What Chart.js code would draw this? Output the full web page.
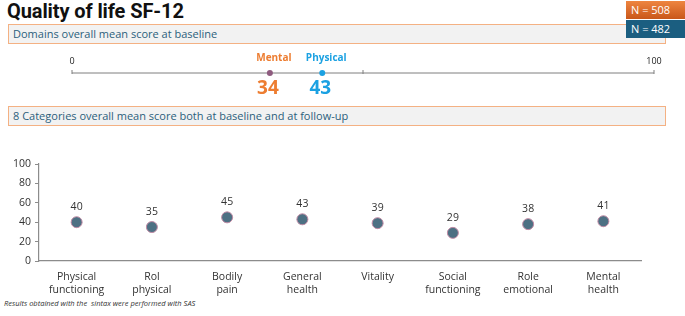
<!DOCTYPE html>
<html>
<head>
<meta charset="utf-8">
<script src="https://cdn.jsdelivr.net/npm/chart.js@4.4.1/dist/chart.umd.min.js"></script>
<style>
  body { margin: 0; width: 685px; height: 316px; background: #fff; position: relative; overflow: hidden; font-family: "Open Sans", Roboto, sans-serif; }
  .title { position: absolute; left: 7px; top: -1px; font-family: Roboto, sans-serif; font-weight: bold; font-size: 20px; color: #111; letter-spacing: -0.1px; }
  .box { position: absolute; left: 8px; width: 658px; background: #f2f2f2; border: 1.5px solid #f4b183; box-sizing: border-box; color: #2c5f7c; font-size: 11px; padding-left: 4px; }
  .nbox { position: absolute; left: 626px; width: 59px; height: 18px; color: #fff; font-size: 11px; line-height: 18px; padding-left: 5px; box-sizing: border-box; }
  .foot { position: absolute; left: 4px; top: 298px; font-size: 7.5px; font-style: italic; color: #333; }
  canvas { position: absolute; left: 0; }
</style>
</head>
<body>
<div class="title">Quality of life SF-12</div>
<div class="box" style="top:24px;height:20px;line-height:18px;">Domains overall mean score at baseline</div>
<div class="nbox" style="top:1px;background:linear-gradient(#ee8540,#c9571a);">N = 508</div>
<div class="nbox" style="top:20px;background:#1b5e80;">N = 482</div>
<div class="box" style="top:106px;height:20px;line-height:18px;">8 Categories overall mean score both at baseline and at follow-up</div>
<div class="foot">Results obtained with the&nbsp; sintax were performed with SAS</div>

<div style="position:absolute;left:0;top:46px;width:685px;height:54px;"><canvas id="domainChart"></canvas></div>
<div style="position:absolute;left:0;top:150px;width:685px;height:150px;"><canvas id="categoryChart"></canvas></div>

<script>
// Domains (baseline)
const domainNames = ['Mental', 'Physical'];
const domainScores = [34, 43];
const domainColors = ['#ed7d31', '#1ba1e2'];
const domainDotColors = ['#8e5b7f', '#1ba1e2'];
const scaleTicks = [0, 50, 100];

// 8 categories
const categories = [
    ['Physical', 'functioning'], ['Rol', 'physical'], ['Bodily', 'pain'], ['General', 'health'],
    'Vitality', ['Social', 'functioning'], ['Role', 'emotional'], ['Mental', 'health']
];
const categoryScores = [40, 35, 45, 43, 39, 29, 38, 41];
const yTicks = [0, 20, 40, 60, 80, 100];

// draws the 0-100 line, tick marks and the labels for the domain chart
const domainScalePlugin = {
    id: 'domainScale',
    beforeDatasetsDraw(chart) {
        const ctx = chart.ctx;
        const x = chart.scales.x;
        const y0 = chart.scales.y.getPixelForValue(0);
        ctx.save();
        ctx.strokeStyle = '#7f7f7f';
        ctx.lineWidth = 1;
        ctx.beginPath();
        ctx.moveTo(x.getPixelForValue(0), y0);
        ctx.lineTo(x.getPixelForValue(100), y0);
        scaleTicks.forEach(t => {
            const px = x.getPixelForValue(t);
            ctx.moveTo(px, y0 - 3);
            ctx.lineTo(px, y0 + 1);
        });
        ctx.stroke();
        ctx.fillStyle = '#222';
        ctx.font = '9px "Open Sans", sans-serif';
        ctx.textAlign = 'center';
        ctx.textBaseline = 'middle';
        ctx.fillText('0', x.getPixelForValue(0), y0 - 12);
        ctx.fillText('100', x.getPixelForValue(100), y0 - 12);
        ctx.restore();
    },
    afterDatasetsDraw(chart) {
        const ctx = chart.ctx;
        const x = chart.scales.x;
        const y0 = chart.scales.y.getPixelForValue(0);
        ctx.save();
        ctx.textAlign = 'center';
        ctx.textBaseline = 'middle';
        domainScores.forEach((v, i) => {
            const px = x.getPixelForValue(v);
            ctx.fillStyle = domainColors[i];
            ctx.font = 'bold 10px "Open Sans", sans-serif';
            ctx.fillText(domainNames[i], px + 4, y0 - 15);
            ctx.font = 'bold 19px "Open Sans", sans-serif';
            ctx.fillText(String(v), px - 2, y0 + 16);
        });
        ctx.restore();
    }
};

new Chart(document.getElementById('domainChart'), {
    type: 'scatter',
    data: {
        datasets: [{
            data: domainScores.map(v => ({ x: v, y: 0 })),
            backgroundColor: domainDotColors,
            borderWidth: 0,
            pointRadius: 3,
            clip: false
        }]
    },
    options: {
        responsive: true,
        maintainAspectRatio: false,
        animation: false,
        layout: { padding: { left: 72, right: 31, top: 0, bottom: 2 } },
        plugins: { legend: { display: false }, tooltip: { enabled: false } },
        scales: {
            x: { type: 'linear', min: 0, max: 100, display: false },
            y: { min: -1, max: 1, display: false }
        }
    },
    plugins: [domainScalePlugin]
});

// value labels above each point
const pointLabelPlugin = {
    id: 'pointLabels',
    afterDatasetsDraw(chart) {
        const ctx = chart.ctx;
        const meta = chart.getDatasetMeta(0);
        ctx.save();
        ctx.fillStyle = '#333';
        ctx.font = '10.5px "Open Sans", sans-serif';
        ctx.textAlign = 'center';
        ctx.textBaseline = 'middle';
        meta.data.forEach((pt, i) => {
            ctx.fillText(String(categoryScores[i]), pt.x, pt.y - 15);
        });
        ctx.restore();
    }
};

new Chart(document.getElementById('categoryChart'), {
    type: 'line',
    data: {
        labels: categories,
        datasets: [{
            data: categoryScores,
            showLine: false,
            pointRadius: 5.5,
            pointBackgroundColor: '#4d7083',
            pointBorderColor: '#c08aa4',
            pointBorderWidth: 1
        }]
    },
    options: {
        responsive: true,
        maintainAspectRatio: false,
        animation: false,
        layout: { padding: { left: 0, right: 44, top: 14, bottom: 0 } },
        plugins: { legend: { display: false }, tooltip: { enabled: false } },
        scales: {
            x: {
                offset: true,
                grid: { display: false },
                border: { color: '#8c8c8c', width: 1.2 },
                ticks: { color: '#333', font: { family: 'Open Sans', size: 10.5 }, padding: 2, maxRotation: 0, autoSkip: false },
                afterFit(scale) { scale.height = 39; }
            },
            y: {
                min: 0,
                max: 100,
                afterBuildTicks(scale) { scale.ticks = yTicks.map(v => ({ value: v })); },
                grid: { drawOnChartArea: false, drawTicks: true, tickLength: 4, color: '#8c8c8c' },
                border: { color: '#8c8c8c', width: 1.2 },
                ticks: { color: '#333', font: { family: 'Open Sans', size: 10.5 }, padding: 4 },
                afterFit(scale) { scale.width = 39; }
            }
        }
    },
    plugins: [pointLabelPlugin]
});
</script>
</body>
</html>
